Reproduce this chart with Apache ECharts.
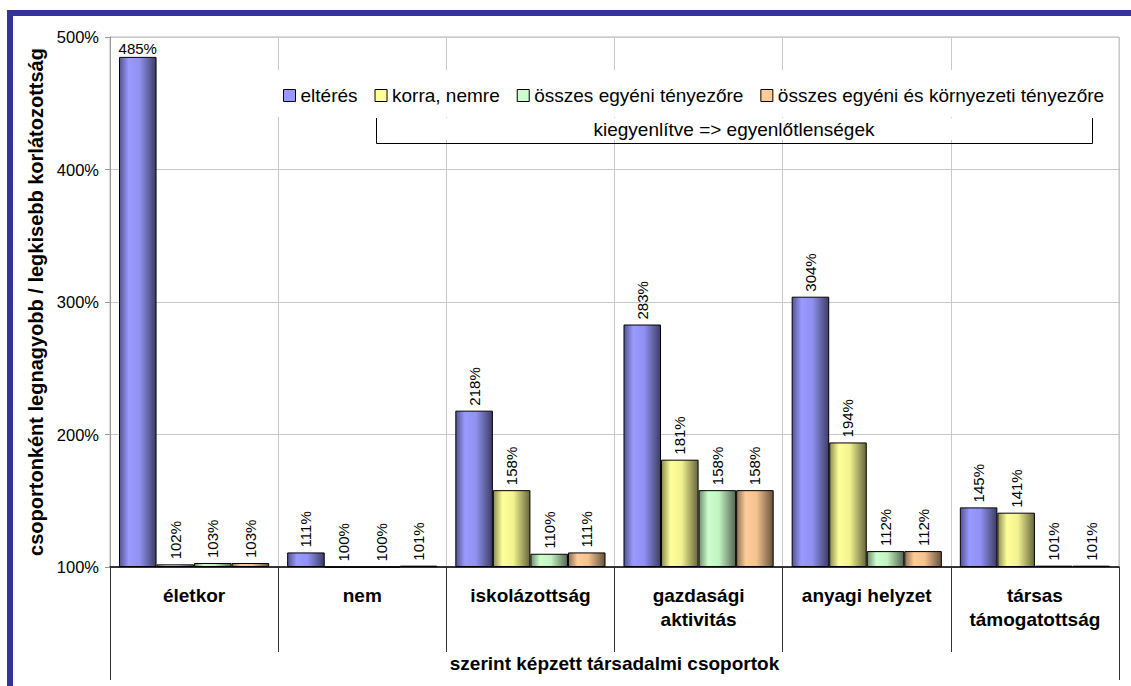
<!DOCTYPE html>
<html>
<head>
<meta charset="utf-8">
<script src="https://cdn.jsdelivr.net/npm/echarts@6/dist/echarts.min.js"></script>
<style>
  html, body { margin: 0; padding: 0; background: #fff; }
  #frame { position: absolute; left: 7px; top: 10px; width: 1124px; height: 676px;
           border-top: 6px solid #333399; border-left: 6px solid #333399; box-sizing: border-box; }
  #chart { position: absolute; left: 0; top: 0; width: 1131px; height: 686px; }
</style>
</head>
<body>
<div id="frame"></div>
<div id="chart"></div>
<script>
// ---- data ----
const categories = ['életkor', 'nem', 'iskolázottság', 'gazdasági\naktivitás', 'anyagi helyzet', 'társas\ntámogatottság'];
const seriesNames = ['eltérés', 'korra, nemre', 'összes egyéni tényezőre', 'összes egyéni és környezeti tényezőre'];
const elteres = [485, 111, 218, 283, 304, 145];
const korraNemre = [102, 100, 158, 181, 194, 141];
const osszesEgyeni = [103, 100, 110, 158, 112, 101];
const osszesKornyezeti = [103, 101, 111, 158, 112, 101];
const yMin = 100, yMax = 500, yStep = 100;
const groupLabel = ['szerint képzett társadalmi csoportok'];
const yTitle = 'csoportonként legnagyobb / legkisebb korlátozottság';
const bracketText = 'kiegyenlítve => egyenlőtlenségek';

// ---- styles ----
const baseColors = ['#9999FF', '#FFFF99', '#CCFFCC', '#FFCC99'];
const FONT = "'Liberation Sans', Arial, sans-serif";

function shade(hex, f) {
  const n = parseInt(hex.slice(1), 16);
  const r = Math.round(((n >> 16) & 255) * f), g = Math.round(((n >> 8) & 255) * f), b = Math.round((n & 255) * f);
  return 'rgb(' + r + ',' + g + ',' + b + ')';
}
function grad(hex) {
  return new echarts.graphic.LinearGradient(0, 0, 1, 0, [
    { offset: 0, color: shade(hex, 0.55) },
    { offset: 0.25, color: hex },
    { offset: 0.55, color: shade(hex, 0.95) },
    { offset: 1, color: shade(hex, 0.4) }
  ]);
}

const valueSets = [elteres, korraNemre, osszesEgyeni, osszesKornyezeti];

const series = valueSets.map((vals, si) => ({
  name: seriesNames[si],
  type: 'bar',
  barGap: '0%',
  barCategoryGap: '10.7%',
  clip: false,
  itemStyle: { color: grad(baseColors[si]), borderColor: '#000', borderWidth: 1 },
  label: {
    show: true, position: 'top', rotate: 90, align: 'left', verticalAlign: 'middle', distance: 5,
    formatter: p => p.value + '%', fontSize: 15, fontFamily: FONT, color: '#000'
  },
  labelLayout: { hideOverlap: false },
  data: vals.map((v, ci) => (si === 0 && ci === 0)
    ? { value: v, label: { rotate: 0, align: 'center', verticalAlign: 'bottom', distance: 1 } }
    : v)
}));

const chart = echarts.init(document.getElementById('chart'), null, { renderer: 'svg' });
chart.setOption({
  animation: false,
  backgroundColor: 'transparent',
  textStyle: { fontFamily: FONT },
  grid: { left: 110, right: 12, top: 37, bottom: 119, show: true, borderColor: '#bdbdbd', borderWidth: 1 },
  legend: {
    left: 273, top: 70, padding: [16, 6, 12, 10], backgroundColor: '#fff',
    itemWidth: 12, itemHeight: 12, itemGap: 17,
    textStyle: { fontSize: 19, color: '#000', fontFamily: FONT },
    data: seriesNames.map((n, i) => ({ name: n, icon: 'rect',
      itemStyle: { color: baseColors[i], borderColor: '#000', borderWidth: 1 } }))
  },
  xAxis: [{
    type: 'category', data: categories, position: 'bottom',
    axisLine: { show: true, lineStyle: { color: '#000', width: 1.5 } },
    axisTick: { show: true, interval: 0, length: 85, lineStyle: { color: '#333' } },
    splitLine: { show: true, interval: 0, lineStyle: { color: '#c8c8c8' } },
    axisLabel: { interval: 0, margin: 16, fontSize: 19, fontWeight: 'bold', color: '#000', lineHeight: 24, fontFamily: FONT }
  }, {
    type: 'category', data: groupLabel, position: 'bottom', gridIndex: 0,
    axisLine: { show: false },
    axisTick: { show: true, interval: 0, length: 113, lineStyle: { color: '#333' } },
    splitLine: { show: false },
    axisLabel: { margin: 87, fontSize: 19, fontWeight: 'bold', color: '#000', fontFamily: FONT }
  }],
  yAxis: {
    type: 'value', min: yMin, max: yMax, interval: yStep, startValue: yMin,
    name: yTitle, nameLocation: 'middle', nameGap: 62, nameRotate: 90,
    nameTextStyle: { fontSize: 20, fontWeight: 'bold', color: '#000', fontFamily: FONT },
    axisLine: { show: true, lineStyle: { color: '#999' } },
    axisTick: { show: true, length: 5, lineStyle: { color: '#999' } },
    splitLine: { show: true, lineStyle: { color: '#c8c8c8' } },
    axisLabel: { formatter: '{value}%', fontSize: 16.5, color: '#000', margin: 11, fontFamily: FONT }
  },
  graphic: [
    { type: 'rect', z: 10, shape: { x: 377, y: 118, width: 714, height: 22 }, style: { fill: '#fff' } },
    { type: 'polyline', z: 11, shape: { points: [[376.5, 118], [376.5, 143.5], [1092.5, 143.5], [1092.5, 118]] },
      style: { stroke: '#000', lineWidth: 1, fill: null } },
    { type: 'text', z: 11, x: 734, y: 129,
      style: { text: bracketText, fontSize: 19, fontFamily: FONT, fill: '#000', textAlign: 'center', textVerticalAlign: 'middle' } }
  ],
  series: series
});
</script>
</body>
</html>
